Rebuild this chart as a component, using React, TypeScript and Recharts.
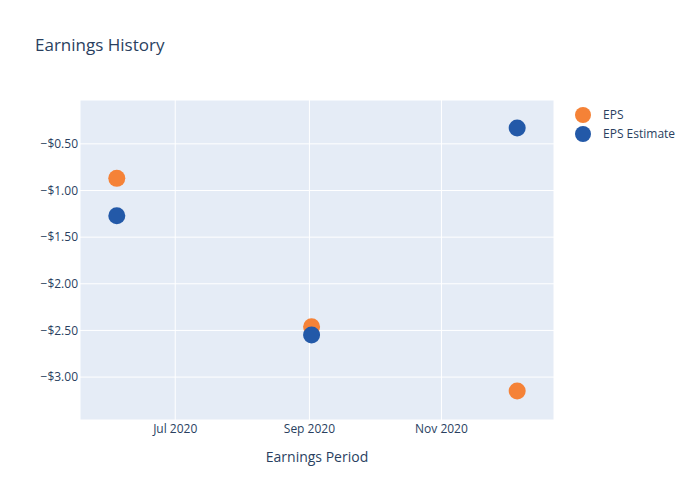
import { ScatterChart, Scatter, XAxis, YAxis, CartesianGrid, Label } from 'recharts';

// earnings periods and values
const periods = ['2020-06-04', '2020-09-02', '2020-12-06'];
const eps = [-0.87, -2.46, -3.15];
const epsEstimate = [-1.27, -2.55, -0.33];

const seriesNames = ['EPS', 'EPS Estimate'];
const seriesColors = ['#F58237', '#2359A8'];

const xTicks = ['2020-07-01', '2020-09-01', '2020-11-01'];
const xTickLabels = ['Jul 2020', 'Sep 2020', 'Nov 2020'];
const xDomain = ['2020-05-18', '2020-12-23'];
const yTicks = [-3, -2.5, -2, -1.5, -1, -0.5];
const yDomain = [-3.46, -0.03];

const ts = (d: string) => Date.parse(d + 'T00:00:00Z');

const epsData = periods.map((p, i) => ({ x: ts(p), y: eps[i] }));
const estimateData = periods.map((p, i) => ({ x: ts(p), y: epsEstimate[i] }));

const FONT = '"Open Sans", verdana, arial, sans-serif';
const TEXT = '#2a3f5f';

const fmtMoney = (v: number) => (v < 0 ? '\u2212' : '') + '$' + Math.abs(v).toFixed(2);
const fmtDate = (v: number) => xTickLabels[xTicks.map(ts).indexOf(v)] ?? '';

const dot = (color: string) => (props: any) => (
  <circle cx={props.cx} cy={props.cy} r={8.5} fill={color} />
);

export default function App() {
  return (
    <div style={{ position: 'absolute', left: 0, top: 0, width: 700, height: 500, background: '#fff', fontFamily: FONT }}>
      <div style={{ position: 'absolute', left: 35, top: 33, fontSize: 17, color: TEXT }}>Earnings History</div>
      <ScatterChart width={700} height={500} margin={{ top: 100, right: 146, bottom: 0, left: 0 }}>
        <CartesianGrid fill="#E5ECF6" stroke="#fff" strokeWidth={1} />
        <XAxis
          type="number"
          dataKey="x"
          domain={xDomain.map(ts)}
          ticks={xTicks.map(ts)}
          tickFormatter={fmtDate}
          allowDataOverflow
          height={80}
          axisLine={false}
          tickLine={false}
          tickSize={0}
          tickMargin={4}
          tick={{ fill: TEXT, fontSize: 12, fontFamily: FONT }}
        >
          <Label value="Earnings Period" position="insideBottom" offset={38} style={{ fill: TEXT, fontSize: 14, fontFamily: FONT }} />
        </XAxis>
        <YAxis
          type="number"
          dataKey="y"
          domain={yDomain}
          ticks={yTicks}
          tickFormatter={fmtMoney}
          allowDataOverflow
          width={80}
          axisLine={false}
          tickLine={false}
          tickSize={0}
          tickMargin={2}
          tick={{ fill: TEXT, fontSize: 12, fontFamily: FONT }}
        />
        <Scatter name={seriesNames[0]} data={epsData} fill={seriesColors[0]} shape={dot(seriesColors[0])} isAnimationActive={false} />
        <Scatter name={seriesNames[1]} data={estimateData} fill={seriesColors[1]} shape={dot(seriesColors[1])} isAnimationActive={false} />
      </ScatterChart>
      <div style={{ position: 'absolute', left: 574, top: 105 }}>
        {seriesNames.map((name, i) => (
          <div key={name} style={{ display: 'flex', alignItems: 'center', height: 19 }}>
            <svg width={18} height={18}>
              <circle cx={9} cy={9} r={8} fill={seriesColors[i]} />
            </svg>
            <span style={{ marginLeft: 11, fontSize: 12, color: TEXT }}>{name}</span>
          </div>
        ))}
      </div>
    </div>
  );
}
